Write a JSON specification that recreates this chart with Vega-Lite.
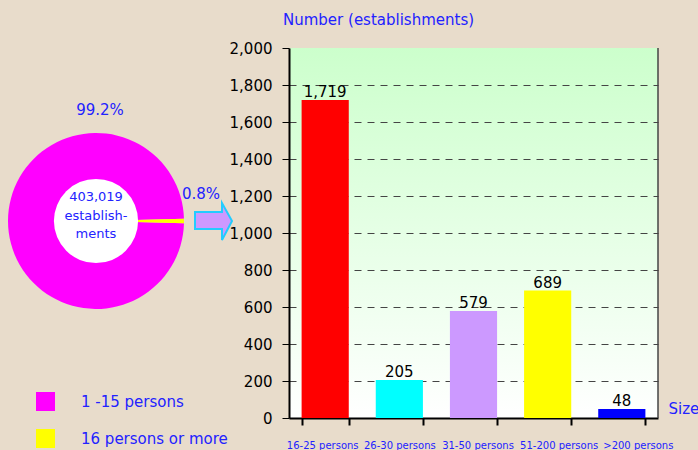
{
  "$schema": "https://vega.github.io/schema/vega-lite/v6.json",
  "background": "#e8dccb",
  "padding": {"left": 0, "top": 13, "right": 0, "bottom": 0},
  "config": {"font": "DejaVu Sans", "view": {"stroke": null}},
  "spacing": 97,
  "bounds": "flush",
  "resolve": {"scale": {"color": "independent"}, "legend": {"color": "independent"}},
  "hconcat": [
    {
      "width": 192,
      "height": 346,
      "data": {"values": [
        {"group": "1 -15 persons", "value": 399779, "label": "99.2%"},
        {"group": "16 persons or more", "value": 3240, "label": "0.8%"}
      ]},
      "layer": [
        {
          "mark": {"type": "arc", "outerRadius": 88, "innerRadius": 0},
          "encoding": {
            "theta": {"field": "value", "type": "quantitative", "stack": true, "scale": {"range": [-4.6878, 1.5961]}},
            "color": {
              "field": "group", "type": "nominal",
              "scale": {"domain": ["1 -15 persons", "16 persons or more"], "range": ["#ff00ff", "#ffff00"]},
              "legend": {
                "orient": "none", "legendX": 36, "legendY": 344, "title": null,
                "symbolType": "square", "symbolSize": 361, "symbolStrokeWidth": 0, "symbolOpacity": 1,
                "labelFontSize": 15, "labelColor": "#2222ff", "labelOffset": 26, "rowPadding": 18, "padding": 0
              }
            }
          }
        },
        {
          "data": {"values": [{"total": 403019}]},
          "mark": {"type": "point", "shape": "circle", "size": 7088, "filled": true, "fill": "#ffffff", "opacity": 1, "strokeWidth": 0},
          "encoding": {}
        },
        {
          "data": {"values": [{"total": 403019}]},
          "mark": {"type": "text", "fontSize": 13, "color": "#2222ff", "lineHeight": 18.5, "dy": -24, "baseline": "middle", "align": "center"},
          "encoding": {"text": {"value": ["403,019", "establish-", "ments"]}}
        },
        {
          "transform": [{"filter": "datum.group == '1 -15 persons'"}],
          "mark": {"type": "text", "fontSize": 15, "color": "#2222ff", "dx": 4, "dy": -111},
          "encoding": {"text": {"field": "label", "type": "nominal"}}
        },
        {
          "transform": [{"filter": "datum.group == '16 persons or more'"}],
          "mark": {"type": "text", "fontSize": 15, "color": "#2222ff", "dx": 105, "dy": -27},
          "encoding": {"text": {"field": "label", "type": "nominal"}}
        },
        {
          "data": {"values": [{}]},
          "mark": {"type": "point", "shape": "M99,-9L126,-9L126,-18L136,0L126,19L126,8L99,8Z", "size": 4, "filled": true, "fill": "#cc99ff", "stroke": "#22ccff", "strokeWidth": 2, "opacity": 1},
          "encoding": {}
        }
      ]
    },
    {
      "width": 369,
      "height": 370,
      "view": {
        "stroke": null,
        "fill": {"gradient": "linear", "x1": 0, "y1": 0, "x2": 0, "y2": 1, "stops": [{"offset": 0, "color": "#ccffcc"}, {"offset": 1, "color": "#ffffff"}]}
      },
      "title": {"text": "Number (establishments)", "anchor": "start", "frame": "group", "dx": -6, "offset": 1, "baseline": "alphabetic", "fontSize": 15, "fontWeight": "normal", "color": "#2222ff"},
      "data": {"values": [
        {"size": "16-25 persons", "count": 1719},
        {"size": "26-30 persons", "count": 205},
        {"size": "31-50 persons", "count": 579},
        {"size": "51-200 persons", "count": 689},
        {"size": ">200 persons", "count": 48}
      ]},
      "encoding": {
        "x": {
          "field": "size", "type": "nominal", "sort": null,
          "scale": {"paddingInner": 0.364, "paddingOuter": 0.17},
          "axis": {
            "labelAngle": 0, "labelFontSize": 10, "labelColor": "#2222ff", "labelOverlap": false,
            "labelOffset": {"condition": [
              {"test": "datum.index > 0.9", "value": 16},
              {"test": "datum.index > 0.6", "value": 11},
              {"test": "datum.index > 0.4", "value": 4},
              {"test": "datum.index < 0.1", "value": -3}
            ], "value": 0},
            "tickBand": "extent", "tickSize": 7, "tickWidth": 2, "tickColor": "black",
            "domainColor": "black", "domainWidth": 2, "labelPadding": 15,
            "title": "Size", "titleX": 379, "titleY": -5, "titleAlign": "left", "titleBaseline": "alphabetic",
            "titleFontSize": 15, "titleFontWeight": "normal", "titleColor": "#2222ff"
          }
        },
        "y": {
          "field": "count", "type": "quantitative",
          "scale": {"domain": [0, 2000], "nice": false},
          "axis": {
            "values": [0, 200, 400, 600, 800, 1000, 1200, 1400, 1600, 1800, 2000],
            "format": ",d", "labelFontSize": 15, "labelColor": "black", "labelPadding": 10,
            "tickSize": 7, "tickColor": "black", "domainColor": "black", "domainWidth": 2,
            "grid": true, "gridDash": [7, 6], "gridColor": "#444444",
            "gridOpacity": {"condition": {"test": "datum.value == 2000 || datum.value == 0", "value": 0}, "value": 1},
            "title": null
          }
        }
      },
      "layer": [
        {
          "mark": {"type": "bar"},
          "encoding": {
            "color": {
              "field": "size", "type": "nominal",
              "scale": {"domain": ["16-25 persons", "26-30 persons", "31-50 persons", "51-200 persons", ">200 persons"], "range": ["#ff0000", "#00ffff", "#cc99ff", "#ffff00", "#0000ff"]},
              "legend": null
            }
          }
        },
        {
          "mark": {"type": "text", "dy": -3, "baseline": "alphabetic", "fontSize": 15, "color": "black"},
          "encoding": {"text": {"field": "count", "type": "quantitative", "format": ",d"}}
        },
        {
          "data": {"values": [{}]},
          "mark": {"type": "rule", "color": "#444444", "strokeWidth": 1.5},
          "encoding": {"x": {"value": "width"}, "y": {"value": 0}, "y2": {"value": "height"}}
        }
      ]
    }
  ]
}
